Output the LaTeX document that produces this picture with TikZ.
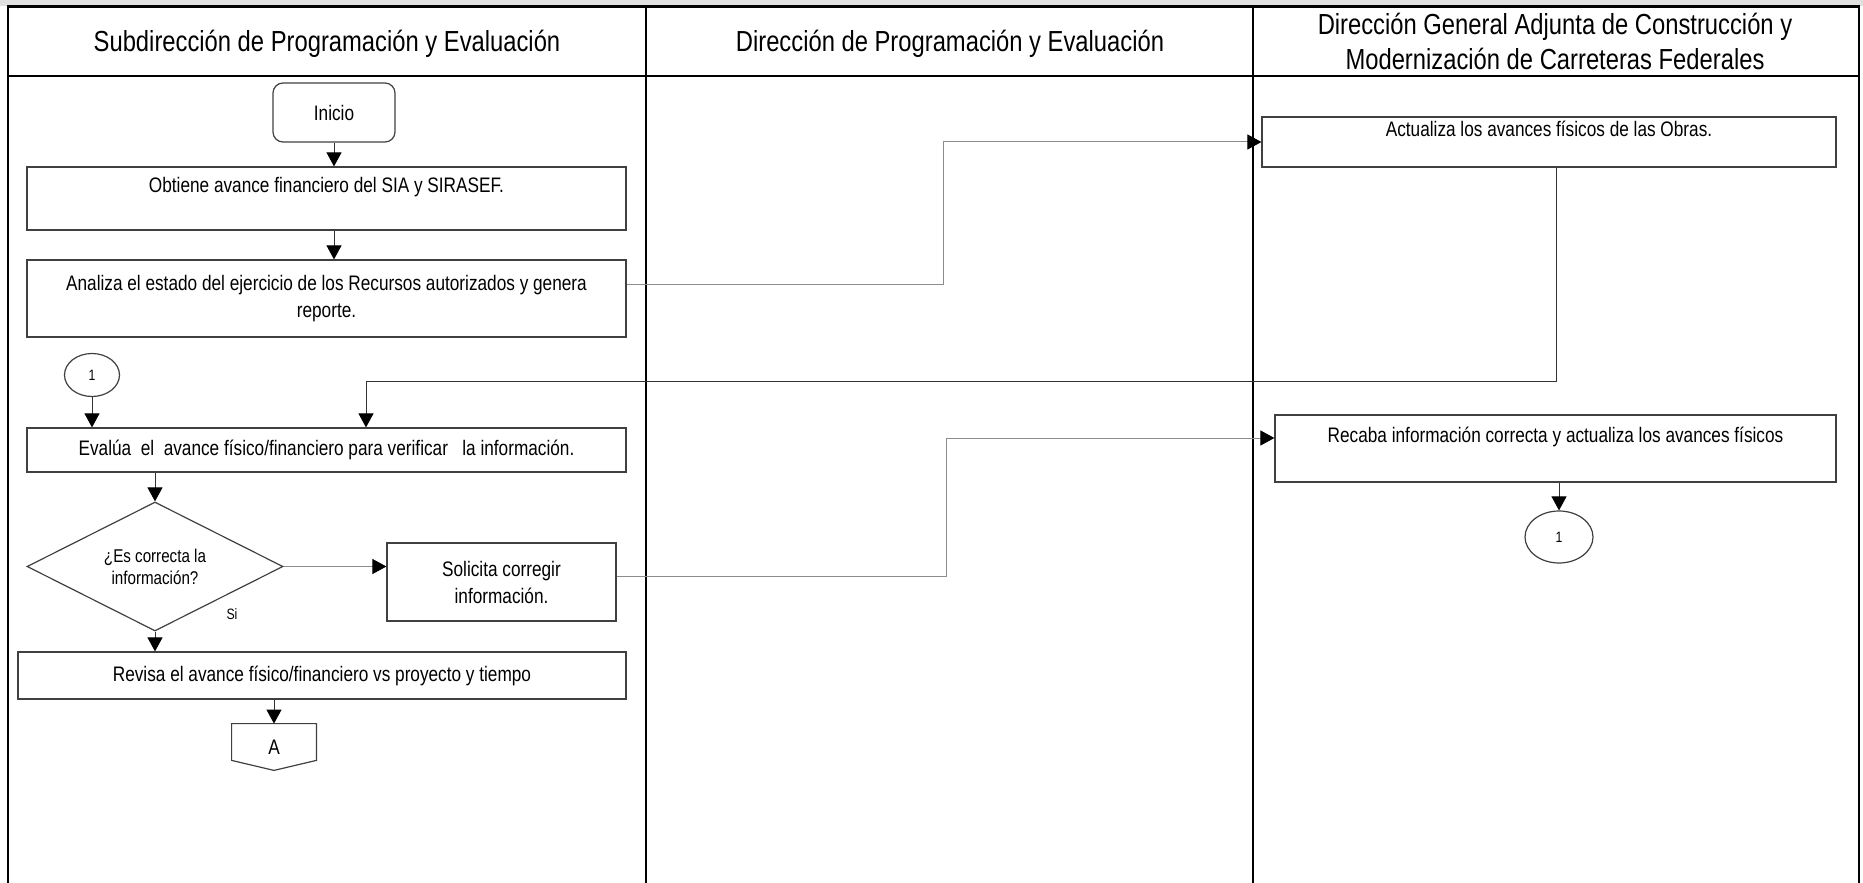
\documentclass[tikz,border=0pt]{standalone}
\usepackage{fontspec}
\setmainfont[FakeStretch=0.82]{Liberation Sans}
\usetikzlibrary{arrows.meta, positioning, shapes.geometric}

\begin{document}
\begin{tikzpicture}[
    x=0.5pt, y=-0.5pt,
    font=\fontsize{10.5}{13.5}\selectfont,
    lane/.style={
      line width=1.4pt,
      draw=black
    },
    head/.style={
      align=center,
      font=\fontsize{14.5}{17.5}\selectfont
    },
    outline/.style={
      draw=black!75,
      line width=0.6pt
    },
    box/.style={
      outline,
      align=center,
      inner sep=0pt
    },
    startbox/.style={
      box,
      rounded corners=5pt,
      minimum width=61pt,
      minimum height=29.5pt
    },
    decision/.style={
      diamond,
      outline,
      aspect=2,
      inner sep=0pt,
      align=center,
      minimum width=128pt,
      minimum height=64.5pt,
      font=\fontsize{9.25}{11}\selectfont
    },
    conn/.style={
      ellipse,
      outline,
      inner sep=0pt,
      font=\fontsize{7.5}{9}\selectfont
    },
    offpage/.style={
      inner sep=0pt,
      minimum width=42pt,
      minimum height=23pt
    },
    lbl/.style={
      font=\fontsize{7.5}{9}\selectfont
    },
    arrow/.style={
      -{Triangle[length=7pt, width=7.5pt, color=black]},
      line width=0.5pt,
      draw=black!80
    },
    grayarrow/.style={
      arrow,
      draw=black!45
    }
  ]

    \useasboundingbox (0,0) rectangle (1863,883);

    % Swimlane frame
    \fill[black!12] (0,0) rectangle (1863,6);
    \draw[lane] (8,883) -- (8,6.5) -- (1859,6.5) -- (1859,883);
    \draw[lane] (8,76) -- (1859,76);
    \draw[lane] (646,6.5) -- (646,883);
    \draw[lane] (1253,6.5) -- (1253,883);

    \node[head] (lanesub) at (327,44) {Subdirección de Programación y Evaluación};
    \node[head] (lanedir) at (950,44) {Dirección de Programación y Evaluación};
    \node[head] (lanedga) at (1555,41) {Dirección General Adjunta de Construcción y\\Modernización de Carreteras Federales};

    % Subdireccion lane
    \node[startbox] (inicio) at (334,112.5) {Inicio};
    \node[box, minimum width=299.5pt, minimum height=31.5pt] (obtiene) at (326.5,198.5)
      {Obtiene avance financiero del SIA y SIRASEF.\\ ~};
    \node[box, minimum width=299.5pt, minimum height=38.5pt] (analiza) at (326.5,298.5)
      {Analiza el estado del ejercicio de los Recursos autorizados y genera\\reporte.};
    \node[conn, minimum width=27.5pt, minimum height=21.5pt] (uno) at (92,375) {1};
    \node[box, minimum width=299.5pt, minimum height=22pt] (evalua) at (326.5,450)
      {Evalúa\ \ el\ \ avance físico/financiero para verificar\ \ \ la información.};
    \node[decision] (correcta) at (155,566.5) {¿Es correcta la\\información?};
    \node[box, minimum width=114.5pt, minimum height=39pt] (solicita) at (501.5,582)
      {Solicita corregir\\información.};
    \node[box, minimum width=304pt, minimum height=23.5pt] (revisa) at (322,675.5)
      {Revisa el avance físico/financiero vs proyecto y tiempo};
    \node[offpage] (pasoA) at (274,747) {A};
    \draw[outline] (pasoA.north west) -- (pasoA.north east) -- ([yshift=5pt]pasoA.south east)
      -- (pasoA.south) -- ([yshift=5pt]pasoA.south west) -- cycle;

    % Direccion General Adjunta lane
    \node[box, minimum width=287pt, minimum height=25pt] (actualiza) at (1549,142)
      {Actualiza los avances físicos de las Obras.\\ ~};
    \node[box, minimum width=280.5pt, minimum height=33.5pt] (recaba) at (1555.5,448.5)
      {Recaba información correcta y actualiza los avances físicos\\ ~};
    \node[conn, minimum width=34pt, minimum height=26pt] (unob) at (1559,537) {1};

    % Arrows
    \draw[arrow] (inicio.south) -- (inicio.south |- obtiene.north);
    \draw[arrow] (inicio.south |- obtiene.south) -- (inicio.south |- analiza.north);
    \draw[arrow] (uno.south) -- (uno.south |- evalua.north);
    \draw[arrow] (correcta.north |- evalua.south) -- (correcta.north);
    \draw[grayarrow] (correcta.east) -- (correcta.east -| solicita.west);
    \draw[arrow] (correcta.south) -- node[lbl, pos=0, xshift=38.5pt, yshift=8.5pt] (si) {Si}
      (correcta.south |- revisa.north);
    \draw[arrow] (pasoA.north |- revisa.south) -- (pasoA.north);
    \draw[arrow] (unob.north |- recaba.south) -- (unob.north);

    % Cross-lane connectors
    \coordinate (midA) at (943,200);
    \coordinate (midB) at (946,500);
    \coordinate (back) at (366,381);
    \draw[grayarrow] ([yshift=7.25pt]analiza.east) -| (midA) |- (actualiza.west);
    \draw[arrow] ([xshift=3.5pt]actualiza.south) |- (back) -- (back |- evalua.north);
    \draw[grayarrow] ([yshift=3pt]solicita.east) -| (midB) |- ([yshift=5.25pt]recaba.west);

  \end{tikzpicture}
\end{document}
